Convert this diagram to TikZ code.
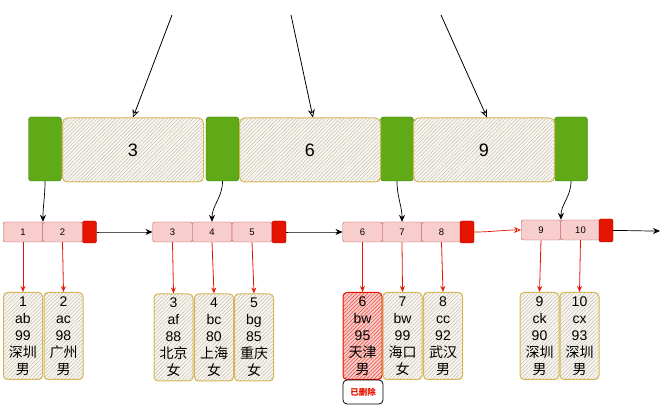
\documentclass[tikz,border=0pt]{standalone}
\usepackage{fontspec}
\setmainfont{Liberation Sans}
\newfontfamily\cjk{Noto Sans CJK SC}
\usetikzlibrary{arrows.meta,patterns.meta}

\definecolor{greenfill}{HTML}{60A917}
\definecolor{greenline}{HTML}{2D7600}
\definecolor{pinkfill}{HTML}{F8CECC}
\definecolor{pinkline}{HTML}{B85450}
\definecolor{redfill}{HTML}{E51400}
\definecolor{redline}{HTML}{B20000}
\definecolor{goldline}{HTML}{D6B656}
\definecolor{beige}{HTML}{FBF7EC}

\tikzset{
  hatch/.style={preaction={fill=beige},
    pattern={Lines[angle=45,distance=2.6pt,line width=0.5pt]}, pattern color=gray!50},
  greenbox/.style={draw=greenline, fill=greenfill, rounded corners=3pt,
    minimum width=33, minimum height=64},
  keybox/.style={hatch, draw=goldline, line width=1pt, rounded corners=5pt,
    minimum width=141, minimum height=64, font=\fontsize{18}{18}\selectfont},
  cell/.style={draw=pinkline, fill=pinkfill, rounded corners=2pt,
    minimum width=39.5, minimum height=20, font=\fontsize{9.5}{10}\selectfont},
  endbox/.style={draw=redline, fill=redfill, rounded corners=2pt,
    minimum width=14, minimum height=22},
  rec/.style={hatch, draw=goldline, line width=1pt, rounded corners=4pt,
    minimum width=39, minimum height=87, inner sep=0pt, align=center,
    font=\fontsize{14}{17}\selectfont},
  delrec/.style={rec, preaction={fill=pinkfill}, pattern color=redfill!80, draw=redfill},
  link/.style={-{Stealth[length=7pt,width=6pt]}, black, line width=0.7pt},
  recarrow/.style={-{Stealth[open,length=6pt,width=5pt]}, redfill, line width=0.8pt}
}

\begin{document}
\begin{tikzpicture}[x=1pt,y=-1pt]
  \useasboundingbox (0,0) rectangle (662,411);

  % Node superior: punters i claus
  \foreach \n/\x in {1/45,2/222.5,3/397,4/571}
    \node[greenbox] (g\n) at (\x,149) {};
  \node[keybox] (k3) at (133,150) {3};
  \node[keybox] (k6) at (310,150) {6};
  \node[keybox] (k9) at (484,150) {9};

  % Fletxes d'entrada des de dalt
  \coordinate (t3) at (172,15);
  \coordinate (t6) at (291,15);
  \coordinate (t9) at (441,15);
  \draw[line width=0.8pt, -{Stealth[open,length=8pt,width=7pt]}] (t3) -- (k3.north);
  \draw[line width=0.8pt, -{Stealth[open,length=8pt,width=7pt]}] (t6) -- ([xshift=3]k6.north);
  \draw[line width=0.8pt, -{Stealth[open,length=8pt,width=7pt]}] (t9) -- ([xshift=3]k9.north);

  % Fulles: cel·les amb les claus
  \foreach \n/\x in {1/23,2/62.5,3/172.5,4/212,5/252,6/362.5,7/402,8/441.5}
    \node[cell] (c\n) at (\x,232) {\n};
  \node[cell] (c9) at (541,230) {9};
  \node[cell] (c10) at (580.5,230) {10};
  \node[endbox] (e1) at (89.5,232) {};
  \node[endbox] (e2) at (279,232) {};
  \node[endbox] (e3) at (467,232) {};
  \node[endbox, minimum height=23] (e4) at (606,230.5) {};
  \coordinate (fin) at (660,231);

  % Enllaços entre fulles
  \draw[link] (e1.east) to[out=0,in=180] (c3.west);
  \draw[link] (e2.east) to[out=0,in=180] (c6.west);
  \draw[link, redfill, -{Stealth[open,length=7pt,width=6pt]}] (e3.east) to[out=0,in=180] (c9.west);
  \draw[link] (e4.east) to[out=0,in=180] (fin);

  % Del node superior a les fulles
  \draw[link] (g1.south) to[out=-90,in=90] (c1.north east);
  \draw[link] (g2.south) to[out=-90,in=90] (c4.north);
  \draw[link] (g3.south) to[out=-90,in=90] (c7.north);
  \draw[link] (g4.south) to[out=-90,in=90] (c9.north east);

  % Registres
  \node[rec] (r1) at (23,336) {1\\ab\\99\\{\cjk 深圳}\\{\cjk 男}};
  \node[rec] (r2) at (63.5,336) {2\\ac\\98\\{\cjk 广州}\\{\cjk 男}};
  \node[rec] (r3) at (173.5,337.5) {3\\af\\88\\{\cjk 北京}\\{\cjk 女}};
  \node[rec] (r4) at (214,337.5) {4\\bc\\80\\{\cjk 上海}\\{\cjk 女}};
  \node[rec] (r5) at (254,337.5) {5\\bg\\85\\{\cjk 重庆}\\{\cjk 女}};
  \node[delrec] (r6) at (362.5,336) {6\\bw\\95\\{\cjk 天津}\\{\cjk 男}};
  \node[rec] (r7) at (402.5,336) {7\\bw\\99\\{\cjk 海口}\\{\cjk 女}};
  \node[rec] (r8) at (443,336) {8\\cc\\92\\{\cjk 武汉}\\{\cjk 男}};
  \node[rec] (r9) at (539.5,336) {9\\ck\\90\\{\cjk 深圳}\\{\cjk 男}};
  \node[rec] (r10) at (579.5,336) {10\\cx\\93\\{\cjk 深圳}\\{\cjk 男}};

  % Marca d'esborrat
  \node[draw, thick, rounded corners=4pt, minimum width=40, minimum height=24,
    text=redfill, font=\cjk\bfseries\fontsize{8.5}{8.5}\selectfont] (del) at (363,392) {已删除};

  % De les cel·les als registres
  \foreach \n in {1,...,10}
    \draw[recarrow] (c\n.south) -- (r\n.north);
\end{tikzpicture}
\end{document}
